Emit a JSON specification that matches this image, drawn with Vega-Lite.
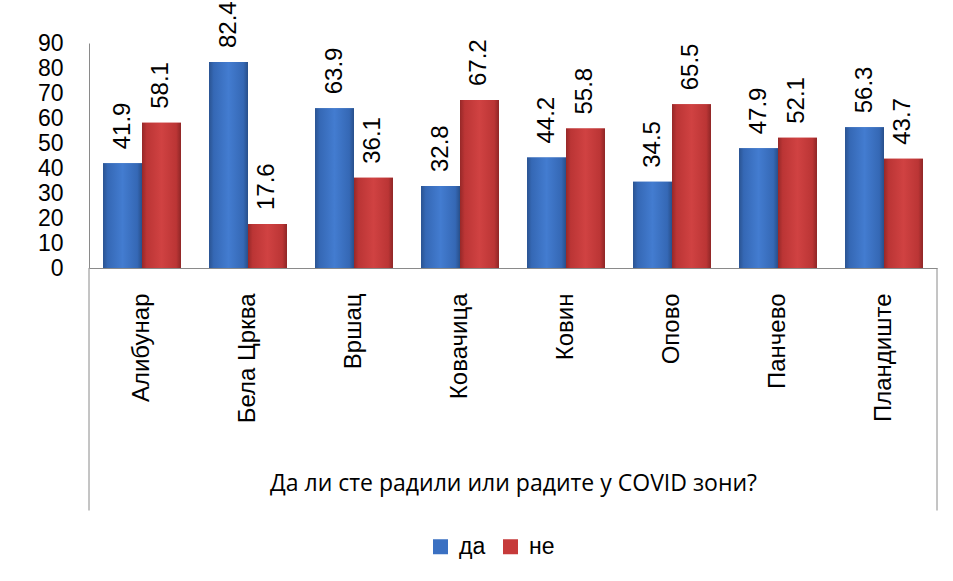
{
  "$schema": "https://vega.github.io/schema/vega-lite/v6.json",
  "width": 848,
  "height": 225,
  "autosize": {"type": "none"},
  "padding": {"left": 89, "top": 43, "right": 16, "bottom": 313},
  "background": "white",
  "config": {
    "view": {"stroke": null},
    "font": "Liberation Sans",
    "axisY": {
      "labelOverlap": false,
      "grid": false,
      "ticks": false,
      "labelFontSize": 23,
      "labelColor": "black",
      "labelPadding": 26,
      "domainColor": "#8a8a8a"
    },
    "axisX": {
      "labelOverlap": false,
      "labelAngle": 270,
      "labelFontSize": 24,
      "labelColor": "black",
      "labelPadding": 25,
      "ticks": false,
      "domainColor": "#8a8a8a",
      "titleFont": "Open Sans",
      "titleFontSize": 23,
      "titleFontWeight": "normal",
      "titleColor": "black",
      "titlePadding": 50
    }
  },
  "data": {
    "values": [
      {"opstina": "Алибунар", "odgovor": "да", "value": 41.9},
      {"opstina": "Алибунар", "odgovor": "не", "value": 58.1},
      {"opstina": "Бела Црква", "odgovor": "да", "value": 82.4},
      {"opstina": "Бела Црква", "odgovor": "не", "value": 17.6},
      {"opstina": "Вршац", "odgovor": "да", "value": 63.9},
      {"opstina": "Вршац", "odgovor": "не", "value": 36.1},
      {"opstina": "Ковачица", "odgovor": "да", "value": 32.8},
      {"opstina": "Ковачица", "odgovor": "не", "value": 67.2},
      {"opstina": "Ковин", "odgovor": "да", "value": 44.2},
      {"opstina": "Ковин", "odgovor": "не", "value": 55.8},
      {"opstina": "Опово", "odgovor": "да", "value": 34.5},
      {"opstina": "Опово", "odgovor": "не", "value": 65.5},
      {"opstina": "Панчево", "odgovor": "да", "value": 47.9},
      {"opstina": "Панчево", "odgovor": "не", "value": 52.1},
      {"opstina": "Пландиште", "odgovor": "да", "value": 56.3},
      {"opstina": "Пландиште", "odgovor": "не", "value": 43.7}
    ]
  },
  "layer": [
    {
      "mark": {"type": "bar"},
      "encoding": {
        "x": {
          "field": "opstina", "type": "nominal", "sort": null,
          "scale": {"paddingInner": 0, "paddingOuter": 0},
          "axis": {"title": "Да ли сте радили или радите у COVID зони?"}
        },
        "xOffset": {
          "field": "odgovor", "type": "nominal", "sort": ["да", "не"],
          "scale": {"domain": ["да", "не"], "paddingInner": 0, "paddingOuter": 0.36}
        },
        "y": {
          "field": "value", "type": "quantitative",
          "scale": {"domain": [0, 90], "nice": false},
          "axis": {
            "title": null,
            "values": [0, 10, 20, 30, 40, 50, 60, 70, 80, 90],
            "labelOverlap": false
          }
        },
        "color": {
          "field": "odgovor", "type": "nominal",
          "scale": {"domain": ["да", "не"], "range": ["#3a70c2", "#c63a3a"]},
          "legend": {
            "title": null,
            "orient": "none",
            "direction": "horizontal",
            "legendX": 340,
            "legendY": 492,
            "padding": 0,
            "symbolType": "square",
            "symbolSize": 225,
            "symbolStrokeWidth": 0,
            "labelFontSize": 23,
            "labelColor": "black",
            "labelOffset": 7,
            "columnPadding": 13
          }
        }
      }
    },
    {
      "transform": [{"filter": "datum.odgovor === 'да'"}],
      "mark": {
        "type": "bar",
        "fill": {
          "gradient": "linear", "x1": 0, "y1": 0, "x2": 1, "y2": 0,
          "stops": [
            {"offset": 0, "color": "#2a5391"},
            {"offset": 0.12, "color": "#3568b5"},
            {"offset": 0.5, "color": "#437cd0"},
            {"offset": 0.88, "color": "#3568b5"},
            {"offset": 1, "color": "#284f8a"}
          ]
        }
      },
      "encoding": {
        "x": {"field": "opstina", "type": "nominal", "sort": null},
        "xOffset": {"field": "odgovor", "type": "nominal", "sort": ["да", "не"]},
        "y": {"field": "value", "type": "quantitative", "axis": {"title": null, "values": [0, 10, 20, 30, 40, 50, 60, 70, 80, 90], "labelOverlap": false}}
      }
    },
    {
      "transform": [{"filter": "datum.odgovor === 'не'"}],
      "mark": {
        "type": "bar",
        "fill": {
          "gradient": "linear", "x1": 0, "y1": 0, "x2": 1, "y2": 0,
          "stops": [
            {"offset": 0, "color": "#962828"},
            {"offset": 0.12, "color": "#bb3535"},
            {"offset": 0.5, "color": "#d04242"},
            {"offset": 0.88, "color": "#bb3535"},
            {"offset": 1, "color": "#8e2626"}
          ]
        }
      },
      "encoding": {
        "x": {"field": "opstina", "type": "nominal", "sort": null},
        "xOffset": {"field": "odgovor", "type": "nominal", "sort": ["да", "не"]},
        "y": {"field": "value", "type": "quantitative", "axis": {"title": null, "values": [0, 10, 20, 30, 40, 50, 60, 70, 80, 90], "labelOverlap": false}}
      }
    },
    {
      "mark": {"type": "text", "angle": 270, "align": "left", "baseline": "middle", "dx": 14, "fontSize": 24, "color": "black"},
      "encoding": {
        "x": {"field": "opstina", "type": "nominal", "sort": null},
        "xOffset": {"field": "odgovor", "type": "nominal", "sort": ["да", "не"]},
        "y": {"field": "value", "type": "quantitative", "axis": {"title": null, "values": [0, 10, 20, 30, 40, 50, 60, 70, 80, 90], "labelOverlap": false}},
        "text": {"field": "value", "type": "quantitative", "format": ".1f"}
      }
    },
    {
      "data": {"values": [{"edge": "left"}]},
      "mark": {"type": "rule", "color": "#8a8a8a"},
      "encoding": {
        "x": {"datum": "Алибунар", "type": "nominal", "bandPosition": 0},
        "y": {"datum": 0, "type": "quantitative", "axis": {"title": null, "values": [0, 10, 20, 30, 40, 50, 60, 70, 80, 90], "labelOverlap": false}},
        "y2": {"datum": -97}
      }
    },
    {
      "data": {"values": [{"edge": "right"}]},
      "mark": {"type": "rule", "color": "#8a8a8a"},
      "encoding": {
        "x": {"datum": "Пландиште", "type": "nominal", "bandPosition": 1},
        "y": {"datum": 0, "type": "quantitative", "axis": {"title": null, "values": [0, 10, 20, 30, 40, 50, 60, 70, 80, 90], "labelOverlap": false}},
        "y2": {"datum": -97}
      }
    }
  ]
}
